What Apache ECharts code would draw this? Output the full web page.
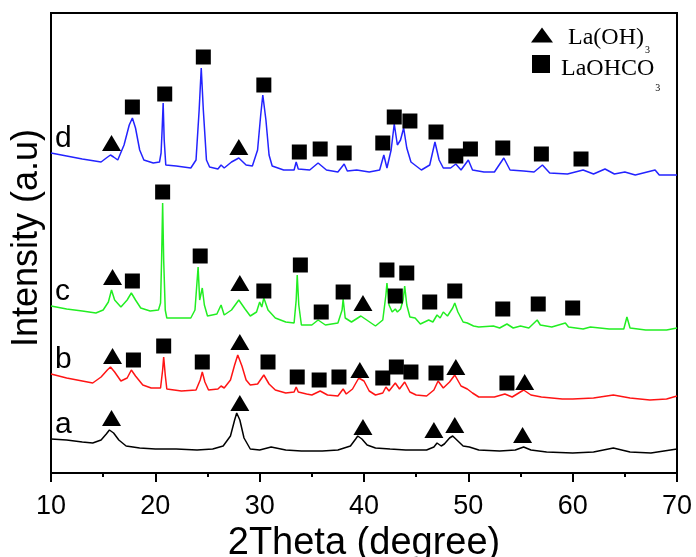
<!DOCTYPE html>
<html>
<head>
<meta charset="utf-8">
<script src="https://cdn.jsdelivr.net/npm/echarts@6/dist/echarts.min.js"></script>
<style>
  html, body { margin: 0; padding: 0; background: #fff; }
  #chart { width: 696px; height: 557px; }
</style>
</head>
<body>
<div id="chart"></div>
<script>
// XRD patterns, [2theta (deg), intensity (a.u., stacked offsets included)]
const curveA = [
  [10,34],[11.5,33],[13,31],[14,30],[14.8,33],[15.3,39],[15.6,43],[16,40],[16.5,33],[17.2,27],
  [18.5,25],[20,24],[22,24],[24,23],[25.5,24],[26.5,27],[27.2,37],[27.6,53],[27.8,60],[28.1,53],
  [28.5,35],[29.1,24],[30,23],[31.1,26],[32.5,23],[34,22],[36,22],[37.5,23],[38.7,27],[39.2,34],
  [39.4,37],[39.8,34],[40.3,28],[41.1,25],[42.5,24],[44,23],[46,23],[46.7,26],[47,30],[47.4,27],
  [47.7,29],[48.2,35],[48.5,37],[48.9,33],[49.5,27],[50.1,26],[51,23],[53,22],[54.5,23],[55.3,26],
  [56,23],[57.5,21],[60,20],[62,21],[63.9,25],[65.5,21],[67.5,20],[70,24]
];
const curveB = [
  [10,99],[11.5,95],[13,92],[14,90],[14.8,96],[15.4,103],[15.7,106],[16.1,101],[16.7,92],[17.3,95],
  [17.7,103],[18.1,97],[18.8,88],[19.6,85],[20.5,85],[20.7,103],[20.8,116],[20.95,98],[21.1,84],[22.5,82],
  [23.9,83],[24.3,93],[24.5,101],[24.75,91],[25.1,83],[26,84],[26.3,87],[26.6,85],[27.2,93],[27.6,108],
  [27.9,118],[28.3,107],[28.7,93],[29.1,88],[29.8,89],[30.4,98],[30.9,89],[31.5,83],[32.5,80],[33.3,81],
  [33.5,86],[33.7,81],[34.5,79],[35,78],[35.8,82],[36.5,78],[37.5,77],[38,84],[38.3,79],[38.9,84],
  [39.5,95],[40,92],[40.5,82],[41.1,78],[41.8,80],[42.1,86],[42.4,82],[43,90],[43.4,84],[43.9,91],
  [44.4,81],[45,78],[46,77],[46.7,83],[47.1,92],[47.6,85],[48.2,91],[48.7,98],[49.3,87],[49.9,84],
  [50.4,80],[51,76],[52.5,76],[53.5,79],[54.2,76],[55.3,83],[56,78],[57,76],[59,74],[60,74],
  [62,75],[63.9,78],[65.5,75],[67.4,73],[69,74],[70,77]
];
const curveC = [
  [10,167],[11.5,164],[13,162],[14.3,160],[15,163],[15.5,171],[15.8,183],[16.1,173],[16.7,166],[17.3,173],
  [17.7,180],[18.1,173],[18.6,165],[19.5,162],[20.3,163],[20.5,170],[20.6,213],[20.7,270],[20.8,213],[20.95,163],
  [21.1,155],[22.5,155],[23.4,155],[23.8,163],[24.1,206],[24.25,173],[24.5,185],[24.7,168],[25,157],[25.9,159],
  [26.3,168],[26.6,158],[27.3,163],[28,173],[28.6,164],[29.1,157],[29.7,161],[30,171],[30.2,166],[30.4,175],
  [30.8,163],[31.5,155],[32.5,151],[33.3,150],[33.5,173],[33.6,198],[33.75,168],[34,148],[35,148],[35.6,153],
  [36.3,148],[37.5,150],[37.9,163],[38,174],[38.2,155],[38.8,151],[39.7,157],[40.4,152],[41.1,147],[41.8,153],
  [42.1,178],[42.2,190],[42.4,168],[42.7,161],[43,164],[43.2,161],[43.5,164],[43.75,173],[43.9,187],[44.1,168],
  [44.4,156],[44.9,155],[45.4,149],[46.2,153],[46.6,151],[47,158],[47.3,155],[47.6,161],[48,157],[48.5,165],
  [48.7,170],[49,161],[49.5,151],[49.9,150],[50.5,147],[51,146],[52.4,147],[53,145],[53.7,149],[54.3,145],
  [55,147],[55.8,145],[56.6,153],[56.9,148],[58,146],[59.3,150],[59.6,146],[61,144],[61.7,146],[63.5,144],
  [64.9,144],[65.2,156],[65.5,145],[67,143],[69,143],[70,145]
];
const curveD = [
  [10,320],[11.5,317],[13,314],[14.8,311],[15.3,315],[15.7,318],[16,316],[16.4,313],[17,328],[17.5,348],
  [17.8,355],[18.1,345],[18.5,323],[18.9,313],[19.8,310],[20.4,311],[20.55,320],[20.65,343],[20.75,370],[20.85,333],
  [21,308],[22,307],[23.4,305],[23.9,313],[24.2,363],[24.4,405],[24.6,363],[24.9,313],[25.2,306],[26,304],
  [26.3,308],[26.6,305],[27.3,311],[28,315],[28.7,308],[29.3,307],[29.8,323],[30.1,358],[30.3,378],[30.6,353],
  [30.9,318],[31.2,307],[32.3,303],[33.3,303],[33.5,311],[33.7,304],[34.8,303],[35.6,310],[36.4,303],[37.5,301],
  [38.1,309],[38.4,302],[39.3,303],[40.5,301],[41.5,303],[41.9,318],[42.2,305],[42.6,323],[42.9,349],[43.2,328],
  [43.5,333],[43.8,345],[44.1,325],[44.5,311],[45,307],[45.5,303],[46.3,308],[46.8,331],[47.2,313],[47.6,305],
  [48.3,305],[48.8,309],[49.3,303],[50,313],[50.4,303],[51.5,301],[52.5,301],[53.4,315],[54,303],[55.3,302],
  [56.3,301],[57.1,308],[57.8,300],[59.5,299],[61,303],[62,299],[63.1,304],[64,299],[65,301],[66,298],
  [67.9,303],[68.3,298],[70,298]
];

// Phase markers: [2theta, marker height]
const laOH3Marks = [
  [15.8,55],[28.1,70],[39.9,46],[46.7,43],[48.7,48],[55.2,38],
  [15.9,117],[28.1,131],[39.6,103],[48.8,106],[55.4,91],
  [15.9,196],[28.1,190],[39.9,170],
  [15.8,330],[28.0,326]
];
const laOHCO3Marks = [
  [17.9,113],[20.8,127],[24.5,111],[30.8,111],[33.6,96],[35.7,93],[37.6,96],[41.8,95],[43.1,106],[44.5,101],[46.9,100],[53.7,90],
  [17.8,192],[20.7,281],[24.3,217],[30.4,182],[33.9,208],[35.9,161],[38.0,181],[42.2,203],[43.0,177],[44.1,200],[46.3,171],[48.7,182],[53.3,164],[56.7,169],[60.0,165],
  [17.8,366],[20.9,379],[24.6,416],[30.4,388],[33.8,321],[35.8,324],[38.1,320],[41.8,330],[42.9,356],[44.4,352],[46.9,341],[48.8,317],[50.2,324],[53.3,325],[57.0,319],[60.8,314]
];

const curveNames = ['a', 'b', 'c', 'd'];
const curveColors = ['#000000', '#ff1414', '#22ee22', '#2323ff'];
const curves = [curveA, curveB, curveC, curveD];
const xTicks = [10, 20, 30, 40, 50, 60, 70];

const chart = echarts.init(document.getElementById('chart'), null, { renderer: 'canvas' });

const sans = 'Arial, "Liberation Sans", sans-serif';
const serif = '"Times New Roman", "Liberation Serif", serif';

const lineSeries = curves.map((c, i) => ({
  name: curveNames[i],
  type: 'line',
  data: c,
  showSymbol: false,
  symbol: 'none',
  lineStyle: { color: curveColors[i], width: 1.5 },
  itemStyle: { color: curveColors[i] },
  silent: true,
  z: 2
}));

function legendText(main, sub) {
  return '{m|' + main + '}{s|' + sub + '}';
}

chart.setOption({
  animation: false,
  backgroundColor: '#ffffff',
  grid: {
    left: 51, right: 19, top: 13, bottom: 84,
    outerBoundsMode: 'none', containLabel: false,
    show: true, borderColor: '#000', borderWidth: 2, backgroundColor: 'transparent'
  },
  legend: [
    {
      data: ['La(OH)3'],
      orient: 'vertical', left: 531, top: 22, padding: 0,
      itemWidth: 22, itemHeight: 15,
      formatter: () => legendText('La(OH)', '3'),
      textStyle: {
        rich: {
          m: { fontFamily: serif, fontSize: 24, color: '#000', verticalAlign: 'top', lineHeight: 26, padding: [4, 0, 0, 10] },
          s: { fontFamily: serif, fontSize: 10, color: '#000', verticalAlign: 'top', lineHeight: 10, padding: [23, 0, 0, 1] }
        }
      }
    },
    {
      data: ['LaOHCO3'],
      orient: 'vertical', left: 532, top: 51, padding: 0,
      itemWidth: 18, itemHeight: 18,
      formatter: () => legendText('LaOHCO', '3'),
      textStyle: {
        rich: {
          m: { fontFamily: serif, fontSize: 24, color: '#000', verticalAlign: 'top', lineHeight: 26, padding: [6, 0, 0, 6] },
          s: { fontFamily: serif, fontSize: 10, color: '#000', verticalAlign: 'top', lineHeight: 10, padding: [32, 0, 0, 1] }
        }
      }
    }
  ],
  xAxis: {
    type: 'value', min: 10, max: 70, interval: 10,
    name: '2Theta (degree)', nameLocation: 'middle', nameGap: 36,
    nameTextStyle: { fontFamily: sans, fontSize: 38, color: '#000' },
    axisLine: { show: true, lineStyle: { color: '#000', width: 2 } },
    axisTick: { show: true, inside: false, length: 9, lineStyle: { color: '#000', width: 2 } },
    minorTick: { show: true, splitNumber: 2, length: 4, lineStyle: { color: '#000', width: 2 } },
    axisLabel: {
      margin: 20, fontFamily: sans, fontSize: 27, color: '#000',
      formatter: v => (xTicks.indexOf(v) >= 0 ? String(v) : '')
    },
    splitLine: { show: false }
  },
  yAxis: {
    type: 'value', min: 0, max: 460,
    name: 'Intensity (a.u)', nameLocation: 'middle', nameGap: 6, nameRotate: 90,
    nameTextStyle: { fontFamily: sans, fontSize: 36, color: '#000', padding: [0, 0, 0, 10] },
    axisLine: { show: true, lineStyle: { color: '#000', width: 2 } },
    axisTick: { show: false },
    axisLabel: { show: false },
    splitLine: { show: false }
  },
  series: lineSeries.concat([
    {
      name: 'La(OH)3', type: 'scatter', data: laOH3Marks,
      symbol: 'triangle', symbolSize: [19, 16],
      itemStyle: { color: '#000', opacity: 1 }, silent: true, z: 5
    },
    {
      name: 'LaOHCO3', type: 'scatter', data: laOHCO3Marks,
      symbol: 'rect', symbolSize: [15, 15],
      itemStyle: { color: '#000', opacity: 1 }, silent: true, z: 5
    }
  ])
});

// Curve letters placed just above the start of each pattern
const letterGraphics = curves.map((c, i) => {
  const p = chart.convertToPixel({ gridIndex: 0 }, c[0]);
  return {
    type: 'text',
    x: p[0] + 4,
    y: p[1] + 1,
    style: {
      text: curveNames[i],
      font: '30px ' + sans,
      fill: '#000',
      align: 'left',
      verticalAlign: 'bottom'
    },
    z: 10
  };
});
chart.setOption({ graphic: letterGraphics });
</script>
</body>
</html>
